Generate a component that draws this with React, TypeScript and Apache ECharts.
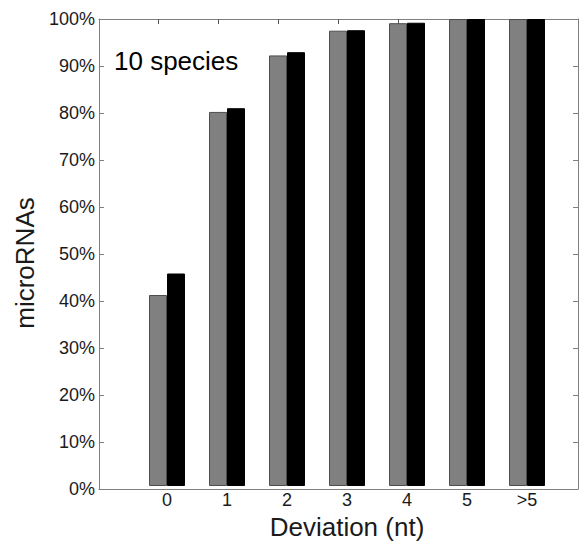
import React, { useEffect, useRef } from "react";
import * as echarts from "echarts";

const categories: string[] = ["0", "1", "2", "3", "4", "5", ">5"];
const graySeries: number[] = [40.9, 80.1, 92.2, 97.5, 99.1, 100, 100];
const blackSeries: number[] = [45.5, 80.9, 92.9, 97.6, 99.2, 100, 100];
const yTicks = { min: 0, max: 100, interval: 10 };
const xTitle = "Deviation (nt)";
const yTitle = "microRNAs";
const annotation = "10 species";

const FONT = "'Liberation Sans', Arial, Helvetica, sans-serif";
const AXIS_GRAY = "#808080";

export default function App() {
  const ref = useRef<HTMLDivElement>(null);

  useEffect(() => {
    if (!ref.current) return;
    const chart = echarts.init(ref.current, undefined, { renderer: "svg" });
    chart.setOption({
      animation: false,
      backgroundColor: "#ffffff",
      textStyle: { fontFamily: FONT },
      grid: [
        { left: 99, top: 19, width: 479, height: 470, containLabel: false },
        { left: 137, top: 19, width: 420, height: 470, containLabel: false },
        { left: 128, top: 19, width: 420, height: 470, containLabel: false },
      ],
      xAxis: [
        {
          gridIndex: 0,
          type: "value",
          min: 0,
          max: 1,
          position: "bottom",
          axisLine: { show: true, onZero: false, lineStyle: { color: AXIS_GRAY, width: 1 } },
          axisTick: { show: false },
          axisLabel: { show: false },
          splitLine: { show: false },
        },
        {
          gridIndex: 0,
          type: "value",
          min: 0,
          max: 1,
          position: "top",
          axisLine: { show: true, onZero: false, lineStyle: { color: AXIS_GRAY, width: 1 } },
          axisTick: { show: false },
          axisLabel: { show: false },
          splitLine: { show: false },
        },
        {
          gridIndex: 1,
          type: "category",
          data: categories,
          position: "bottom",
          axisLine: { show: false, onZero: false },
          axisTick: { show: false },
          axisLabel: { show: true, fontSize: 18, color: "#1a1a1a", margin: 5, fontFamily: FONT },
          name: xTitle,
          nameLocation: "middle",
          nameGap: 28,
          nameTextStyle: { fontSize: 26, color: "#1a1a1a", fontFamily: FONT },
        },
        {
          gridIndex: 2,
          type: "category",
          data: categories,
          position: "top",
          axisLine: { show: false, onZero: false },
          axisTick: { show: true, inside: true, alignWithLabel: true, length: 5, lineStyle: { color: "#555555" } },
          axisLabel: { show: false },
        },
      ],
      yAxis: [
        {
          gridIndex: 0,
          type: "value",
          min: yTicks.min,
          max: yTicks.max,
          interval: yTicks.interval,
          position: "left",
          axisLine: { show: true, onZero: false, lineStyle: { color: AXIS_GRAY, width: 1 } },
          axisTick: { show: true, inside: true, length: 5, lineStyle: { color: AXIS_GRAY } },
          axisLabel: { show: true, formatter: "{value}%", fontSize: 18, color: "#1a1a1a", margin: 4, fontFamily: FONT },
          splitLine: { show: false },
        },
        {
          gridIndex: 0,
          type: "value",
          min: yTicks.min,
          max: yTicks.max,
          interval: yTicks.interval,
          position: "right",
          axisLine: { show: true, onZero: false, lineStyle: { color: AXIS_GRAY, width: 1 } },
          axisTick: { show: true, inside: true, length: 5, lineStyle: { color: AXIS_GRAY } },
          axisLabel: { show: false },
          splitLine: { show: false },
        },
        {
          gridIndex: 1,
          type: "value",
          min: yTicks.min,
          max: yTicks.max,
          show: false,
          splitLine: { show: false },
        },
        {
          gridIndex: 2,
          type: "value",
          min: yTicks.min,
          max: yTicks.max,
          show: false,
          splitLine: { show: false },
        },
      ],
      series: [
        {
          type: "bar",
          xAxisIndex: 2,
          yAxisIndex: 2,
          data: graySeries,
          barWidth: 18,
          barGap: "0%",
          itemStyle: { color: "#808080", borderColor: "#4d4d4d", borderWidth: 1 },
        },
        {
          type: "bar",
          xAxisIndex: 2,
          yAxisIndex: 2,
          data: blackSeries,
          barWidth: 18,
          barGap: "0%",
          itemStyle: { color: "#000000", borderColor: "#000000", borderWidth: 1 },
        },
      ],
      graphic: [
        {
          type: "text",
          left: 114,
          top: 48,
          style: { text: annotation, fontSize: 26, fill: "#000000", fontFamily: FONT },
        },
        {
          type: "text",
          x: 25,
          y: 263,
          rotation: Math.PI / 2,
          style: {
            text: yTitle,
            fontSize: 26,
            fill: "#1a1a1a",
            fontFamily: FONT,
            align: "center",
            verticalAlign: "middle",
          },
        },
      ],
    });
    return () => chart.dispose();
  }, []);

  return (
    <div
      ref={ref}
      style={{ position: "fixed", left: 0, top: 0, width: 579, height: 545, background: "#fff" }}
    />
  );
}
